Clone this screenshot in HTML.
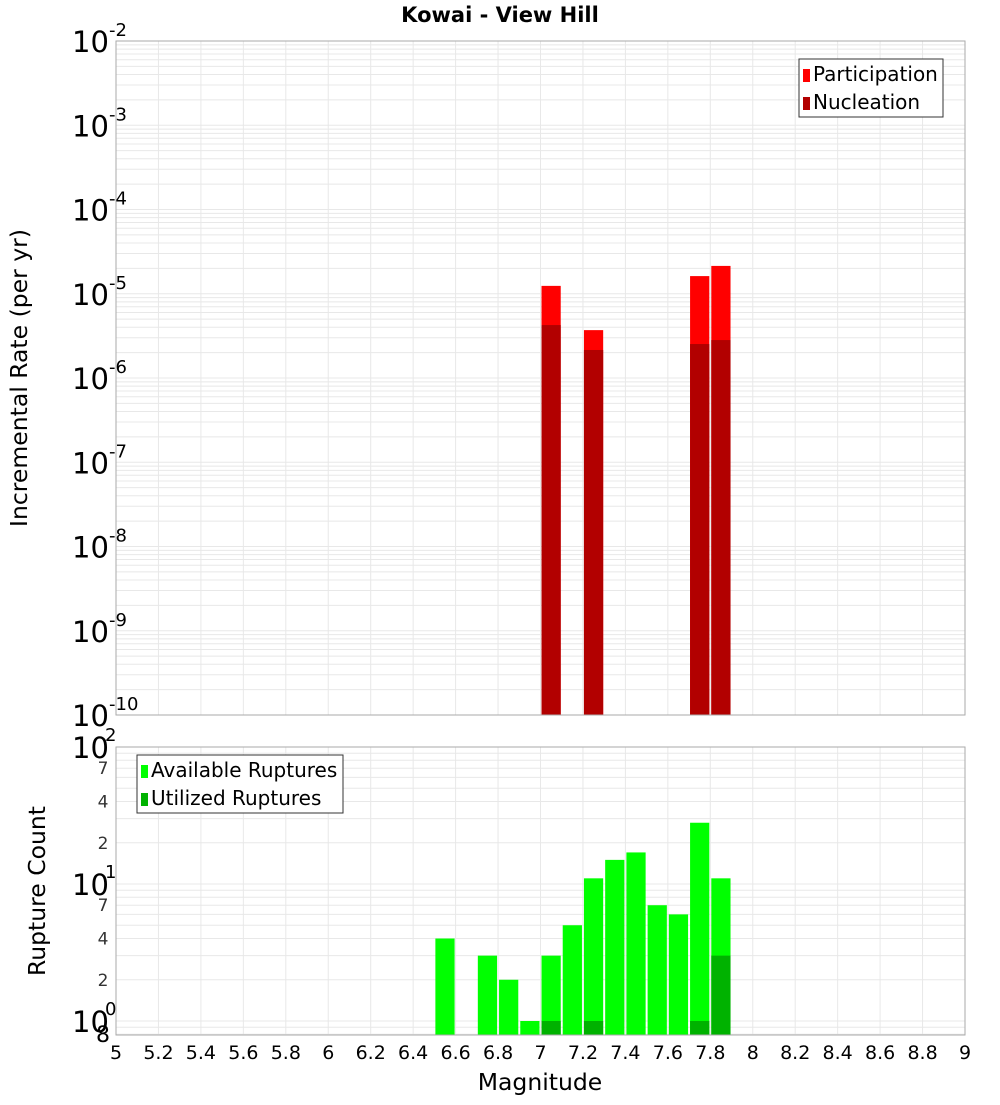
<!DOCTYPE html>
<html><head><meta charset="utf-8"><style>
body{margin:0;background:#fff;width:1000px;height:1100px;overflow:hidden}
svg text{font-family:"DejaVu Sans","Liberation Sans",sans-serif}
</style></head><body>
<svg id="c" width="1000" height="1100" xmlns="http://www.w3.org/2000/svg">
<text x="500" y="22" text-anchor="middle" font-size="21" font-weight="bold">Kowai - View Hill</text>
<text transform="translate(27,378) rotate(-90)" text-anchor="middle" font-size="23.5">Incremental Rate (per yr)</text>
<text transform="translate(45,891) rotate(-90)" text-anchor="middle" font-size="23.5">Rupture Count</text>
<text x="540" y="1090" text-anchor="middle" font-size="23.5">Magnitude</text>
<g id="g"></g>
</svg>
<script>
const mags=[7.0,7.2,7.7,7.8];
const participation=[1.24e-5,3.7e-6,1.62e-5,2.14e-5];
const nucleation=[4.25e-6,2.15e-6,2.53e-6,2.82e-6];
const countMags=[6.5,6.7,6.8,6.9,7.0,7.1,7.2,7.3,7.4,7.5,7.6,7.7,7.8];
const available=[4,3,2,1,3,5,11,15,17,7,6,28,11];
const utilMags=[7.0,7.2,7.7,7.8];
const utilized=[1,1,1,3];
const xTicks=[5,5.2,5.4,5.6,5.8,6,6.2,6.4,6.6,6.8,7,7.2,7.4,7.6,7.8,8,8.2,8.4,8.6,8.8,9];
const topDecades=[-2,-3,-4,-5,-6,-7,-8,-9,-10];
const botMinor=[[7,"7"],[4,"4"],[2,"2"],[70,"7"],[40,"4"],[20,"2"]];

const NS="http://www.w3.org/2000/svg",g=document.getElementById('g');
const L=116,R=965,T1=41,B1=715,T2=747,B2=1035;
const x=m=>L+(m-5)/4*(R-L);
const yT=v=>T1+(-2-Math.log10(v))/8*(B1-T1);
const D2=137;
const yB=v=>T2+(2-Math.log10(v))*D2;
function el(t,a,p){const e=document.createElementNS(NS,t);for(const k in a)e.setAttribute(k,a[k]);(p||g).appendChild(e);return e;}
function txt(s,a){const e=el('text',a);e.textContent=s;return e;}
for(const [T,B,nm] of [[T1,B1,'top-plot-area'],[T2,B2,'bottom-plot-area']]){
  const r=el('rect',{x:L,y:T,width:R-L,height:B-T,fill:'#fff'});
  
  
  for(const t of xTicks){el('line',{x1:x(t),x2:x(t),y1:T,y2:B,stroke:'#e8e8e8'});}
}
for(let d=-10;d<-2;d++)for(let k=1;k<10;k++){const yy=yT(k*Math.pow(10,d));el('line',{x1:L,x2:R,y1:yy,y2:yy,stroke:'#e8e8e8'});}
for(let d=-1;d<2;d++)for(let k=1;k<10;k++){const yy=yB(k*Math.pow(10,d));if(yy<=B2&&yy>=T2)el('line',{x1:L,x2:R,y1:yy,y2:yy,stroke:'#e8e8e8'});}
mags.forEach((m,i)=>{
  const b=el('rect',{x:x(m)+1,y:yT(participation[i]),width:x(m+0.1)-x(m)-2,height:B1-yT(participation[i]),fill:'#ff0000'});
  
  
  const n=el('rect',{x:x(m)+1,y:yT(nucleation[i]),width:x(m+0.1)-x(m)-2,height:B1-yT(nucleation[i]),fill:'#b20000'});
  
  
});
countMags.forEach((m,i)=>{
  const b=el('rect',{x:x(m)+1,y:yB(available[i]),width:x(m+0.1)-x(m)-2,height:B2-yB(available[i]),fill:'#00ff00'});
  
  
});
utilMags.forEach((m,i)=>{
  const b=el('rect',{x:x(m)+1,y:yB(utilized[i]),width:x(m+0.1)-x(m)-2,height:B2-yB(utilized[i]),fill:'#00b200'});
  
  
});
el('rect',{x:L,y:T1,width:R-L,height:B1-T1,fill:'none',stroke:'#aaa'});
el('rect',{x:L,y:T2,width:R-L,height:B2-T2,fill:'none',stroke:'#aaa'});
topDecades.forEach(d=>{
  const yy=yT(Math.pow(10,d));
  const t=txt('10',{x:72,y:yy+11,'font-size':29});
  
  
  txt(String(d),{x:109,y:yy-5,'font-size':18});
});
[[100,'2'],[10,'1'],[1,'0']].forEach(([v,s])=>{
  const yy=yB(v);
  const t=txt('10',{x:72,y:yy+11,'font-size':29});
  
  
  txt(s,{x:105,y:yy-6,'font-size':18});
});
botMinor.forEach(([v,s])=>{txt(s,{x:103,y:yB(v)+6,'font-size':17,'text-anchor':'middle',fill:'#333'});});
txt('8',{x:96,y:1042,'font-size':22});
xTicks.forEach(t=>{
  const e=txt(String(t),{x:x(t),y:1059,'text-anchor':'middle','font-size':19});
  
  
});
function legend(X,Y,W,items,nm){
  const gg=el('g',{});
  
  
  el('rect',{x:X,y:Y,width:W,height:58,fill:'#fff',stroke:'#333'},gg);
  items.forEach(([c,s],i)=>{
    el('rect',{x:X+4,y:Y+10+i*28,width:7,height:13,fill:c},gg);
    const t=el('text',{x:X+14,y:Y+22+i*28,'font-size':20},gg);t.textContent=s;
  });
}
legend(799,59,144,[['#ff0000','Participation'],['#b20000','Nucleation']],'top-legend');
legend(137,755,206,[['#00ff00','Available Ruptures'],['#00b200','Utilized Ruptures']],'bottom-legend');
</script>
</body></html>
